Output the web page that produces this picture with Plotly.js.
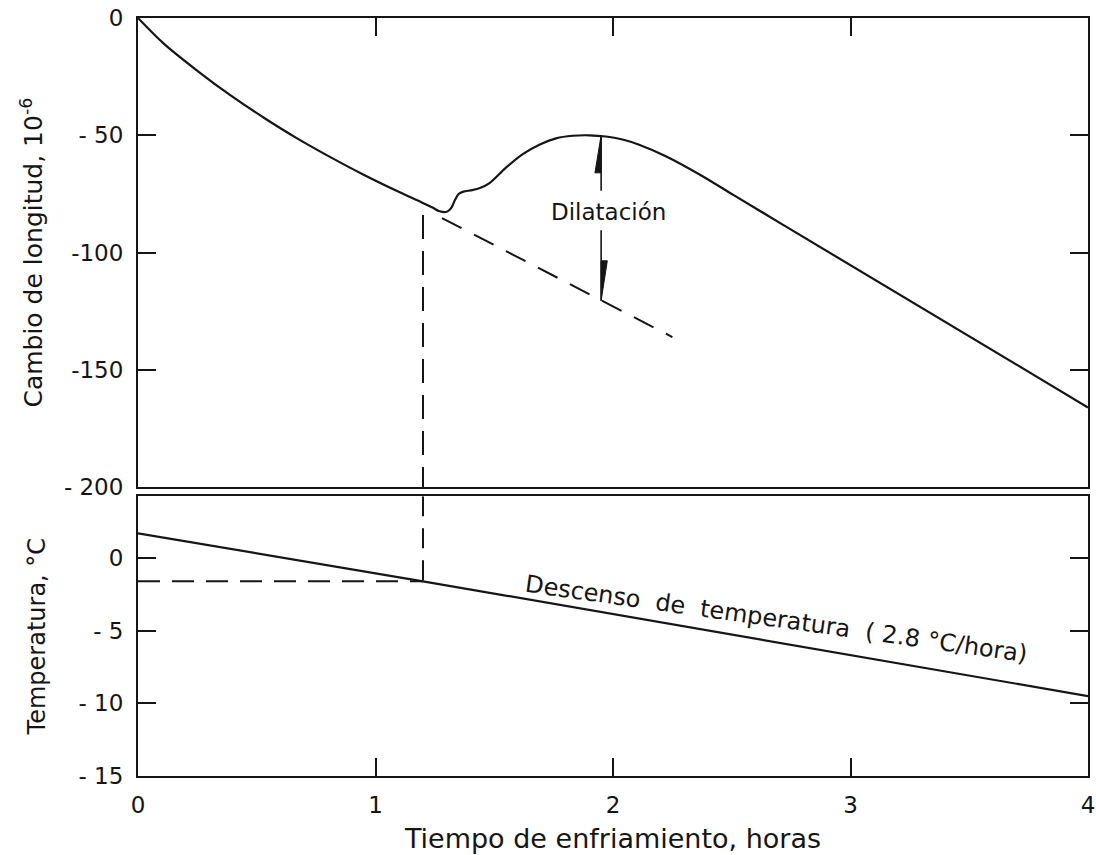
<!DOCTYPE html>
<html>
<head>
<meta charset="utf-8">
<script src="https://cdn.plot.ly/plotly-3.0.1.min.js"></script>
<style>html,body{margin:0;padding:0;background:#fff;}#chart{width:1096px;height:855px;}</style>
</head>
<body>
<div id="chart"></div>
<script>
// ---- data ----
const tiempoLongitud = [0, 0.106, 0.25, 0.39, 0.53, 0.67, 0.81, 0.95, 1.10, 1.195, 1.24, 1.27, 1.30, 1.32, 1.335, 1.35, 1.37, 1.407, 1.44, 1.48, 1.547, 1.62, 1.69, 1.76, 1.83, 1.90, 1.97, 2.04, 2.11, 2.22, 2.37, 2.51, 2.72, 4.0];
const cambioLongitud = [0, -10.7, -22.5, -33.0, -42.5, -51.3, -59.3, -66.8, -74.2, -78.6, -80.8, -82.4, -82.6, -80.8, -77.5, -75.0, -74.0, -73.4, -72.5, -70.4, -64.0, -58.0, -54.0, -51.3, -50.2, -50.0, -50.5, -51.8, -54.0, -58.8, -67.0, -75.6, -88.4, -166];

// extrapolated contraction (dashed) line
const tiempoExtrap = [1.28, 2.25];
const longitudExtrap = [-85.3, -136];

// temperature descent
const tiempoTemp = [0, 1.2, 4];
const temperatura = [1.7, -1.6, -9.5];

// reference (dashed) guides at the start of the dilatation
const tiempoInicio = [1.2];
const longitudInicio = [-84];
const temperaturaInicio = [-1.6];

// dilatation arrow
const dilatacionX = [1.95];
const dilatacionSup = [-50];
const dilatacionInf = [-120.5];

// axis ticks
const xTicks = [0, 1, 2, 3, 4];
const xTickText = ['0', '1', '2', '3', '4'];
const yLongTicks = [-200, -150, -100, -50, 0];
const yLongText = ['- 200', '-150', '-100', '- 50', '0'];
const yTempTicks = [-15, -10, -5, 0];
const yTempText = ['- 15', '- 10', '- 5', '0'];

const ink = '#151515';
const FONT = 'DejaVu Sans, sans-serif';

const xTop = [0, 4];
const yTempTop = 4.25;

const traces = [
  {x: tiempoLongitud, y: cambioLongitud, xaxis: 'x2', yaxis: 'y2', mode: 'lines',
   line: {color: ink, width: 2.2, shape: 'spline', smoothing: 0.8}},
  {x: tiempoExtrap, y: longitudExtrap, xaxis: 'x2', yaxis: 'y2', mode: 'lines',
   line: {color: ink, width: 2, dash: '22px,14px'}},
  {x: [tiempoInicio[0], tiempoInicio[0]], y: [longitudInicio[0], -200], xaxis: 'x2', yaxis: 'y2', mode: 'lines',
   line: {color: ink, width: 2, dash: '24px,12px'}},
  {x: [tiempoInicio[0], tiempoInicio[0]], y: [yTempTop, temperaturaInicio[0]], xaxis: 'x', yaxis: 'y', mode: 'lines',
   line: {color: ink, width: 2, dash: '20px,12px'}},
  {x: [0, tiempoInicio[0]], y: [temperaturaInicio[0], temperaturaInicio[0]], xaxis: 'x', yaxis: 'y', mode: 'lines',
   line: {color: ink, width: 2, dash: '22px,12px'}},
  {x: tiempoTemp, y: temperatura, xaxis: 'x', yaxis: 'y', mode: 'lines',
   line: {color: ink, width: 2.2}},
  {x: [dilatacionX[0], dilatacionX[0]], y: [dilatacionSup[0], -73.6], xaxis: 'x2', yaxis: 'y2', mode: 'lines',
   line: {color: ink, width: 1.6}},
  {x: [dilatacionX[0], dilatacionX[0]], y: [-90.5, dilatacionInf[0]], xaxis: 'x2', yaxis: 'y2', mode: 'lines',
   line: {color: ink, width: 1.6}},
  {x: [dilatacionX[0], dilatacionX[0], dilatacionX[0] - 0.026, dilatacionX[0]],
   y: [dilatacionSup[0], dilatacionSup[0] - 16, dilatacionSup[0] - 16, dilatacionSup[0]],
   xaxis: 'x2', yaxis: 'y2', mode: 'lines', fill: 'toself', fillcolor: ink, line: {color: ink, width: 1}},
  {x: [dilatacionX[0], dilatacionX[0], dilatacionX[0] + 0.026, dilatacionX[0]],
   y: [dilatacionInf[0], dilatacionInf[0] + 17, dilatacionInf[0] + 17, dilatacionInf[0]],
   xaxis: 'x2', yaxis: 'y2', mode: 'lines', fill: 'toself', fillcolor: ink, line: {color: ink, width: 1}}
];

const axisCommon = {
  showgrid: false, zeroline: false, showline: true, linecolor: ink, linewidth: 2,
  ticks: 'inside', ticklen: 18, tickwidth: 2, tickcolor: ink,
  tickfont: {family: FONT, size: 23, color: ink}
};

const layout = {
  width: 1096, height: 855,
  paper_bgcolor: '#ffffff', plot_bgcolor: '#ffffff',
  showlegend: false,
  margin: {l: 138, r: 8, t: 18, b: 79},
  font: {family: FONT, color: ink},
  xaxis: Object.assign({}, axisCommon, {
    domain: [0, 1], anchor: 'y', range: xTop, tickvals: xTicks, ticktext: xTickText,
    mirror: true, ticklabelstandoff: 7,
    title: {text: 'Tiempo de enfriamiento, horas', font: {family: FONT, size: 27, color: ink}, standoff: 13}
  }),
  yaxis: Object.assign({}, axisCommon, {
    domain: [0, 0.369], anchor: 'x', range: [-15, yTempTop], tickvals: yTempTicks, ticktext: yTempText,
    mirror: 'ticks', ticklabelstandoff: 8,
    title: {text: 'Temperatura, °C', font: {family: FONT, size: 24, color: ink}, standoff: 26}
  }),
  xaxis2: Object.assign({}, axisCommon, {
    domain: [0, 1], anchor: 'y2', range: xTop, tickvals: xTicks, showticklabels: false,
    side: 'top', mirror: true
  }),
  yaxis2: Object.assign({}, axisCommon, {
    domain: [0.381, 1], anchor: 'x2', range: [-200, 0], tickvals: yLongTicks, ticktext: yLongText,
    mirror: 'ticks', ticklabelstandoff: 8,
    title: {text: 'Cambio de longitud, 10<sup>-6</sup>', font: {family: FONT, size: 25, color: ink}, standoff: 14}
  }),
  annotations: [
    {x: 1.98, y: -82.5, xref: 'x2', yref: 'y2', text: 'Dilatación', showarrow: false,
     font: {family: FONT, size: 23, color: ink}},
    {x: 2.69, y: -4.2, xref: 'x', yref: 'y', textangle: 8,
     text: 'Descenso  de  temperatura  ( 2.8 °C/hora)', showarrow: false,
     font: {family: FONT, size: 24, color: ink}}
  ]
};

Plotly.newPlot('chart', traces, layout, {displayModeBar: false, staticPlot: true});
</script>
</body>
</html>
